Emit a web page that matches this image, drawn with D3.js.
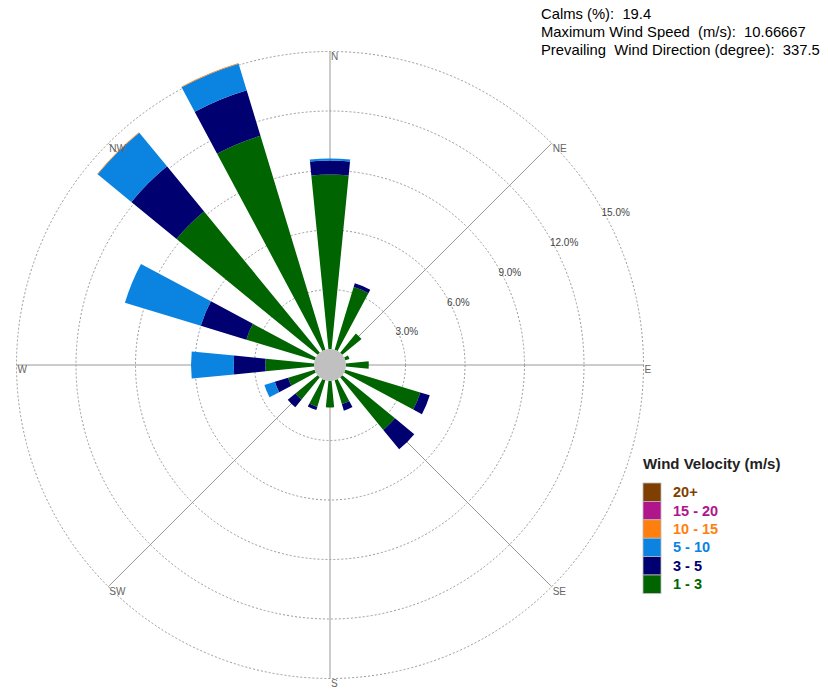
<!DOCTYPE html>
<html>
<head>
<meta charset="utf-8">
<script src="https://cdn.jsdelivr.net/npm/d3@7"></script>
<style>
  body { margin: 0; background: #fff; }
  svg { font-family: "Liberation Sans", Arial, sans-serif; }
</style>
</head>
<body>
<div id="rose"></div>
<script>
// directions, clockwise from north
const directions = ["N", "NNE", "NE", "ENE", "E", "ESE", "SE", "SSE", "S", "SSW", "SW", "WSW", "W", "WNW", "NW", "NNW"];
const compassLabels = ["N", "NE", "E", "SE", "S", "SW", "W", "NW"];

// speed classes (m/s), from slowest to fastest
const speedBins = ["1 - 3", "3 - 5", "5 - 10", "10 - 15", "15 - 20", "20+"];
const binColors = ["#006400", "#000070", "#0a84e0", "#ff7f0e", "#b0158c", "#7f3f00"];

// frequency (%) of each class per direction
const v1to3   = [8.8, 3.3, 1.25, 0.22, 1.15, 3.95, 3.43, 1.25, 1.33, 1.4, 1.45, 1.4, 2.45, 3.6, 9.2, 11.27];
const v3to5   = [0.7, 0.2, 0, 0, 0, 0.5, 1.26, 0.35, 0, 0.17, 0.5, 0.7, 1.6, 2.4, 2.95, 2.4];
const v5to10  = [0.1, 0, 0, 0, 0, 0, 0, 0, 0, 0, 0, 0.55, 2.15, 4.0, 2.2, 1.4];
const v10to15 = [0, 0, 0, 0, 0, 0, 0, 0, 0, 0, 0, 0, 0, 0, 0.03, 0.03];
const v15to20 = [0, 0, 0, 0, 0, 0, 0, 0, 0, 0, 0, 0, 0, 0, 0, 0];
const v20plus = [0, 0, 0, 0, 0, 0, 0, 0, 0, 0, 0, 0, 0, 0, 0, 0];

const ringTicks = [3, 6, 9, 12, 15];
const infoLines = ["Calms (%):  19.4", "Maximum Wind Speed  (m/s):  10.66667", "Prevailing  Wind Direction (degree):  337.5"];

const width = 828, height = 691;
const cx = 330, cy = 365;
const calmRadius = 16, outerRadius = 313.5;

const series = [v1to3, v3to5, v5to10, v10to15, v15to20, v20plus];
const table = directions.map((d, i) => {
  const row = { dir: d };
  speedBins.forEach((b, j) => { row[b] = series[j][i]; });
  return row;
});

const svg = d3.select("#rose").append("svg")
  .attr("width", width)
  .attr("height", height);

const r = d3.scaleLinear().domain([0, 15]).range([calmRadius, outerRadius]);
const angle = d3.scalePoint().domain(directions.concat(["_"])).range([0, 2 * Math.PI]);
const color = d3.scaleOrdinal().domain(speedBins).range(binColors);

const g = svg.append("g").attr("transform", `translate(${cx},${cy})`);

// dashed rings
g.selectAll("circle.ring")
  .data(ringTicks)
  .enter().append("circle")
  .attr("class", "ring")
  .attr("r", d => r(d))
  .attr("fill", "none")
  .attr("stroke", "#999")
  .attr("stroke-width", 1)
  .attr("stroke-dasharray", "2,2");

// spokes for the 8 main directions
const spokeAngle = d => angle(d);
g.selectAll("line.spoke")
  .data(compassLabels)
  .enter().append("line")
  .attr("x1", 0).attr("y1", 0)
  .attr("x2", d => outerRadius * Math.sin(spokeAngle(d)))
  .attr("y2", d => -outerRadius * Math.cos(spokeAngle(d)))
  .attr("stroke", "#999")
  .attr("stroke-width", 1);

// stacked wedges
const stacked = d3.stack().keys(speedBins)(table);
const half = Math.PI / 32; // wedge half width
const arc = d3.arc()
  .innerRadius(d => r(d[0]))
  .outerRadius(d => r(d[1]))
  .startAngle(d => angle(d.data.dir) - half)
  .endAngle(d => angle(d.data.dir) + half);

g.selectAll("g.layer")
  .data(stacked)
  .enter().append("g")
  .attr("class", "layer")
  .attr("fill", d => color(d.key))
  .selectAll("path")
  .data(d => d.filter(s => s[1] - s[0] > 0))
  .enter().append("path")
  .attr("d", arc);

// calm circle
g.append("circle")
  .attr("r", calmRadius)
  .attr("fill", "#c0c0c0");

// direction labels
g.selectAll("text.dir")
  .data(compassLabels)
  .enter().append("text")
  .attr("x", d => outerRadius * Math.sin(spokeAngle(d)) + 1)
  .attr("y", d => -outerRadius * Math.cos(spokeAngle(d)) + 1)
  .attr("dominant-baseline", "hanging")
  .attr("font-size", "10px")
  .attr("fill", "#666")
  .text(d => d);

// ring labels
const labelAngle = Math.PI / 3; // 60 deg from north
g.selectAll("text.tick")
  .data(ringTicks)
  .enter().append("text")
  .attr("x", d => r(d) * Math.sin(labelAngle))
  .attr("y", d => -r(d) * Math.cos(labelAngle) + 1)
  .attr("dominant-baseline", "hanging")
  .attr("font-size", "10px")
  .attr("fill", "#444")
  .text(d => d.toFixed(1) + "%");

// info text top right
svg.selectAll("text.info")
  .data(infoLines)
  .enter().append("text")
  .attr("x", 541)
  .attr("y", (d, i) => 19 + i * 18)
  .attr("font-size", "14.8px")
  .attr("fill", "#000")
  .style("white-space", "pre")
  .text(d => d);

// legend
const legend = svg.append("g").attr("transform", "translate(643,469)");
legend.append("text")
  .attr("x", 0).attr("y", 0)
  .attr("font-size", "15px")
  .attr("font-weight", "bold")
  .attr("fill", "#222")
  .text("Wind Velocity (m/s)");

const legendBins = speedBins.slice().reverse();
const boxH = 18.4;
legend.selectAll("rect")
  .data(legendBins)
  .enter().append("rect")
  .attr("x", 0)
  .attr("y", (d, i) => 14 + i * boxH)
  .attr("width", 18)
  .attr("height", boxH)
  .attr("fill", d => color(d))
  .attr("stroke", "#bbb")
  .attr("stroke-width", 0.8);

legend.selectAll("text.item")
  .data(legendBins)
  .enter().append("text")
  .attr("x", 30)
  .attr("y", (d, i) => 14 + i * boxH + boxH / 2 + 5)
  .attr("font-size", "14.5px")
  .attr("font-weight", "bold")
  .attr("fill", d => color(d))
  .text(d => d);
</script>
</body>
</html>
